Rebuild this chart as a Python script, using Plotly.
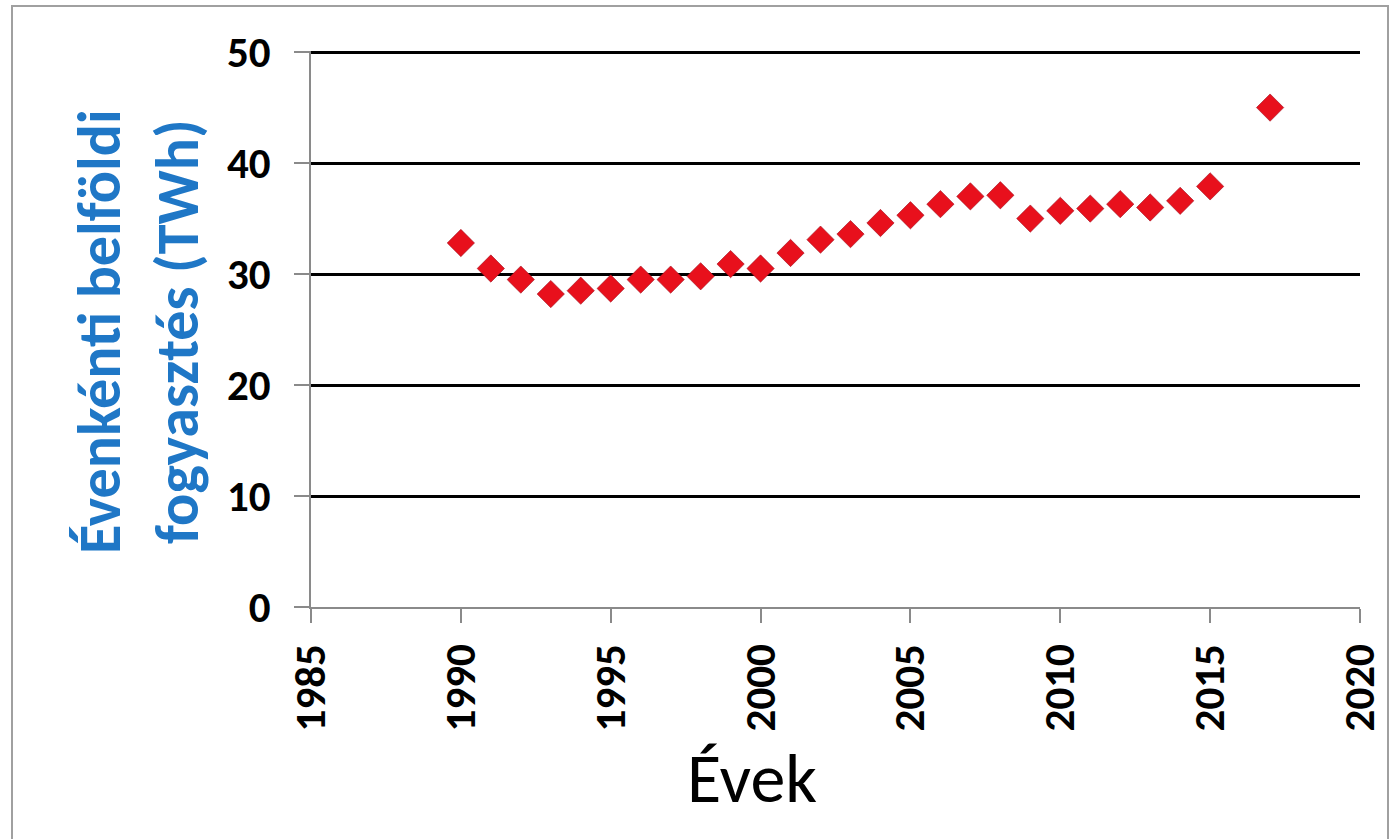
import plotly.graph_objects as go

# Annual domestic electricity consumption (TWh)
years = [1990, 1991, 1992, 1993, 1994, 1995, 1996, 1997, 1998, 1999, 2000,
         2001, 2002, 2003, 2004, 2005, 2006, 2007, 2008, 2009, 2010, 2011,
         2012, 2013, 2014, 2015, 2017]
consumption = [32.8, 30.5, 29.5, 28.2, 28.5, 28.7, 29.5, 29.5, 29.8, 30.9, 30.5,
               31.9, 33.1, 33.6, 34.6, 35.3, 36.3, 37.0, 37.1, 35.0, 35.7, 35.9,
               36.3, 36.0, 36.6, 37.9, 45.0]

x_ticks = [1985, 1990, 1995, 2000, 2005, 2010, 2015, 2020]
y_ticks = [0, 10, 20, 30, 40, 50]

FONT = "Carlito, 'Liberation Sans Narrow', 'Open Sans', sans-serif"

fig = go.Figure()
fig.add_trace(go.Scatter(
    x=years, y=consumption, mode="markers",
    marker=dict(symbol="diamond", size=21, color="#E8101C",
                line=dict(width=0.6, color="#A01020")),
    showlegend=False, hoverinfo="x+y",
))

L, R, T, B = 311, 37, 51, 232
W, H = 1397, 839
pw, ph = W - L - R, H - T - B

fig.update_layout(
    width=W, height=H,
    margin=dict(l=L, r=R, t=T, b=B),
    paper_bgcolor="white", plot_bgcolor="white",
    font=dict(family=FONT, color="black"),
    xaxis=dict(
        range=[1985, 2020], tickmode="array", tickvals=x_ticks,
        ticktext=[f"<b>{v}</b>" for v in x_ticks],
        tickangle=-90, tickfont=dict(size=43, family=FONT),
        ticklabelstandoff=4,
        showgrid=False, zeroline=False,
        showline=True, linecolor="#8a8a8a", linewidth=2,
        ticks="outside", ticklen=14, tickcolor="#8a8a8a", tickwidth=1.5,
    ),
    yaxis=dict(
        range=[0, 50.1], tickmode="array", tickvals=y_ticks,
        ticktext=[f"<b>{v}</b>" for v in y_ticks],
        tickfont=dict(size=43, family=FONT),
        ticklabelstandoff=15,
        showgrid=True, gridcolor="black", gridwidth=2.5,
        zeroline=False,
        showline=True, linecolor="#8a8a8a", linewidth=1.5,
        ticks="outside", ticklen=15, tickcolor="#8a8a8a", tickwidth=1.5,
    ),
    shapes=[
        dict(type="rect", xref="paper", yref="paper",
             x0=(12 - L) / pw, x1=(1388 - L) / pw,
             y0=(H - B - 860) / ph, y1=(H - B - 6) / ph,
             line=dict(color="#a0a0a0", width=2), fillcolor="rgba(0,0,0,0)",
             layer="below"),
    ],
    annotations=[
        dict(text="<b>Évenkénti belföldi<br>fogyasztés (TWh)</b>",
             xref="paper", yref="paper",
             x=(138 - L) / pw, y=(H - B - 332) / ph,
             xanchor="center", yanchor="middle", textangle=-90,
             showarrow=False, font=dict(size=60, color="#1F77C6", family=FONT)),
        dict(text="Évek", xref="paper", yref="paper",
             x=(752 - L) / pw, y=(H - B - 778) / ph,
             xanchor="center", yanchor="middle",
             showarrow=False, font=dict(size=70, color="black", family=FONT)),
    ],
)

fig.write_html("out.html")
